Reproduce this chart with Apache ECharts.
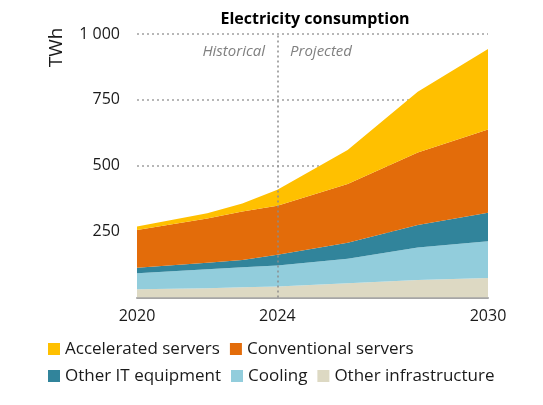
<!DOCTYPE html>
<html>
<head>
<meta charset="utf-8">
<script src="https://cdn.jsdelivr.net/npm/echarts@6/dist/echarts.min.js"></script>
<style>
  html, body { margin: 0; padding: 0; background: #fff; }
  #chart { width: 543px; height: 405px; }
</style>
</head>
<body>
<div id="chart"></div>
<script>
// 数据
const years        = [2020, 2022, 2023, 2024, 2026, 2028, 2030];
const otherInfra   = [31, 35, 39, 42, 54, 66, 74];
const cooling      = [61, 72, 76, 79, 93, 124, 139];
const otherIT      = [21, 25, 27, 41, 61, 85, 109];
const conventional = [143, 168, 184, 186, 223, 275, 316];
const accelerated  = [13, 20, 31, 61, 129, 231, 305];
const xTickLabels  = [2020, 2024, 2030];
const splitYear    = 2024;

const seriesNames  = ['Other infrastructure', 'Cooling', 'Other IT equipment', 'Conventional servers', 'Accelerated servers'];
const seriesValues = [otherInfra, cooling, otherIT, conventional, accelerated];
const seriesColors = ['#DDD9C3', '#92CDDC', '#31849B', '#E36C0A', '#FFC000'];

const font = 'Open Sans';
const yearDate = y => y + '-01-01';
const DAY = 86400000;

let chart = echarts.init(document.getElementById('chart'));

// 堆叠面积 (时间轴, 避免数值轴按 x 堆叠)
let series = seriesNames.map((name, i) => ({
    name: name,
    type: 'line',
    stack: 'total',
    symbol: 'none',
    color: seriesColors[i],
    lineStyle: { width: 0 },
    areaStyle: { color: seriesColors[i], opacity: 1 },
    data: years.map((y, j) => [yearDate(y), seriesValues[i][j]])
}));

// 2024 分隔线
series[4].markLine = {
    silent: true,
    symbol: 'none',
    label: { show: false },
    lineStyle: { color: '#8c8c8c', type: [2, 3], width: 1.5 },
    data: [{ xAxis: yearDate(splitYear) }]
};

let option = {
    animation: false,
    title: {
        text: 'Electricity consumption',
        left: 310, top: 6, textAlign: 'center',
        textStyle: { fontFamily: font, fontSize: 16, fontWeight: 'bold', color: '#000' }
    },
    grid: { left: 137, right: 55, top: 34, bottom: 107.5 },
    xAxis: {
        type: 'time', min: yearDate(2020), max: yearDate(2030),
        minInterval: 365 * DAY, maxInterval: 366 * DAY,
        axisLine: { show: true, lineStyle: { color: '#a6a6a6', width: 2 } },
        axisTick: { show: false },
        splitLine: { show: false },
        axisLabel: {
            margin: 11, fontFamily: font, fontSize: 16, color: '#1a1a1a',
            showMinLabel: true, showMaxLabel: true, hideOverlap: false,
            formatter: v => {
                let d = new Date(v);
                let y = d.getFullYear();
                return (d.getMonth() === 0 && d.getDate() === 1 && xTickLabels.includes(y)) ? String(y) : '';
            }
        }
    },
    yAxis: {
        type: 'value', min: 0, max: 1000, interval: 250,
        axisLine: { show: false },
        axisTick: { show: false },
        splitLine: { lineStyle: { color: '#a0a0a0', type: [2, 3], width: 1.5 } },
        axisLabel: {
            margin: 17, fontFamily: font, fontSize: 16, color: '#1a1a1a',
            formatter: v => v === 0 ? '' : (v >= 1000 ? '1 000' : String(v))
        }
    },
    legend: {
        data: ['Accelerated servers', 'Conventional servers', '', 'Other IT equipment', 'Cooling', 'Other infrastructure'],
        left: 48, top: 340.5, padding: 0,
        icon: 'rect', itemWidth: 12, itemHeight: 12, itemGap: 10,
        selectedMode: false,
        textStyle: { fontFamily: font, fontSize: 17, color: '#1a1a1a' }
    },
    graphic: [
        { type: 'text', x: 56.5, y: 47.5, rotation: Math.PI / 2,
          style: { text: 'TWh', fontFamily: font, fontSize: 19, fill: '#1a1a1a', align: 'center', verticalAlign: 'middle' } },
        { type: 'text', x: 265, y: 52,
          style: { text: 'Historical', fontFamily: font, fontSize: 15, fontStyle: 'italic', fill: '#808080', align: 'right', verticalAlign: 'middle' } },
        { type: 'text', x: 290, y: 52,
          style: { text: 'Projected', fontFamily: font, fontSize: 15, fontStyle: 'italic', fill: '#808080', align: 'left', verticalAlign: 'middle' } }
    ],
    series: series
};
chart.setOption(option);
</script>
</body>
</html>
